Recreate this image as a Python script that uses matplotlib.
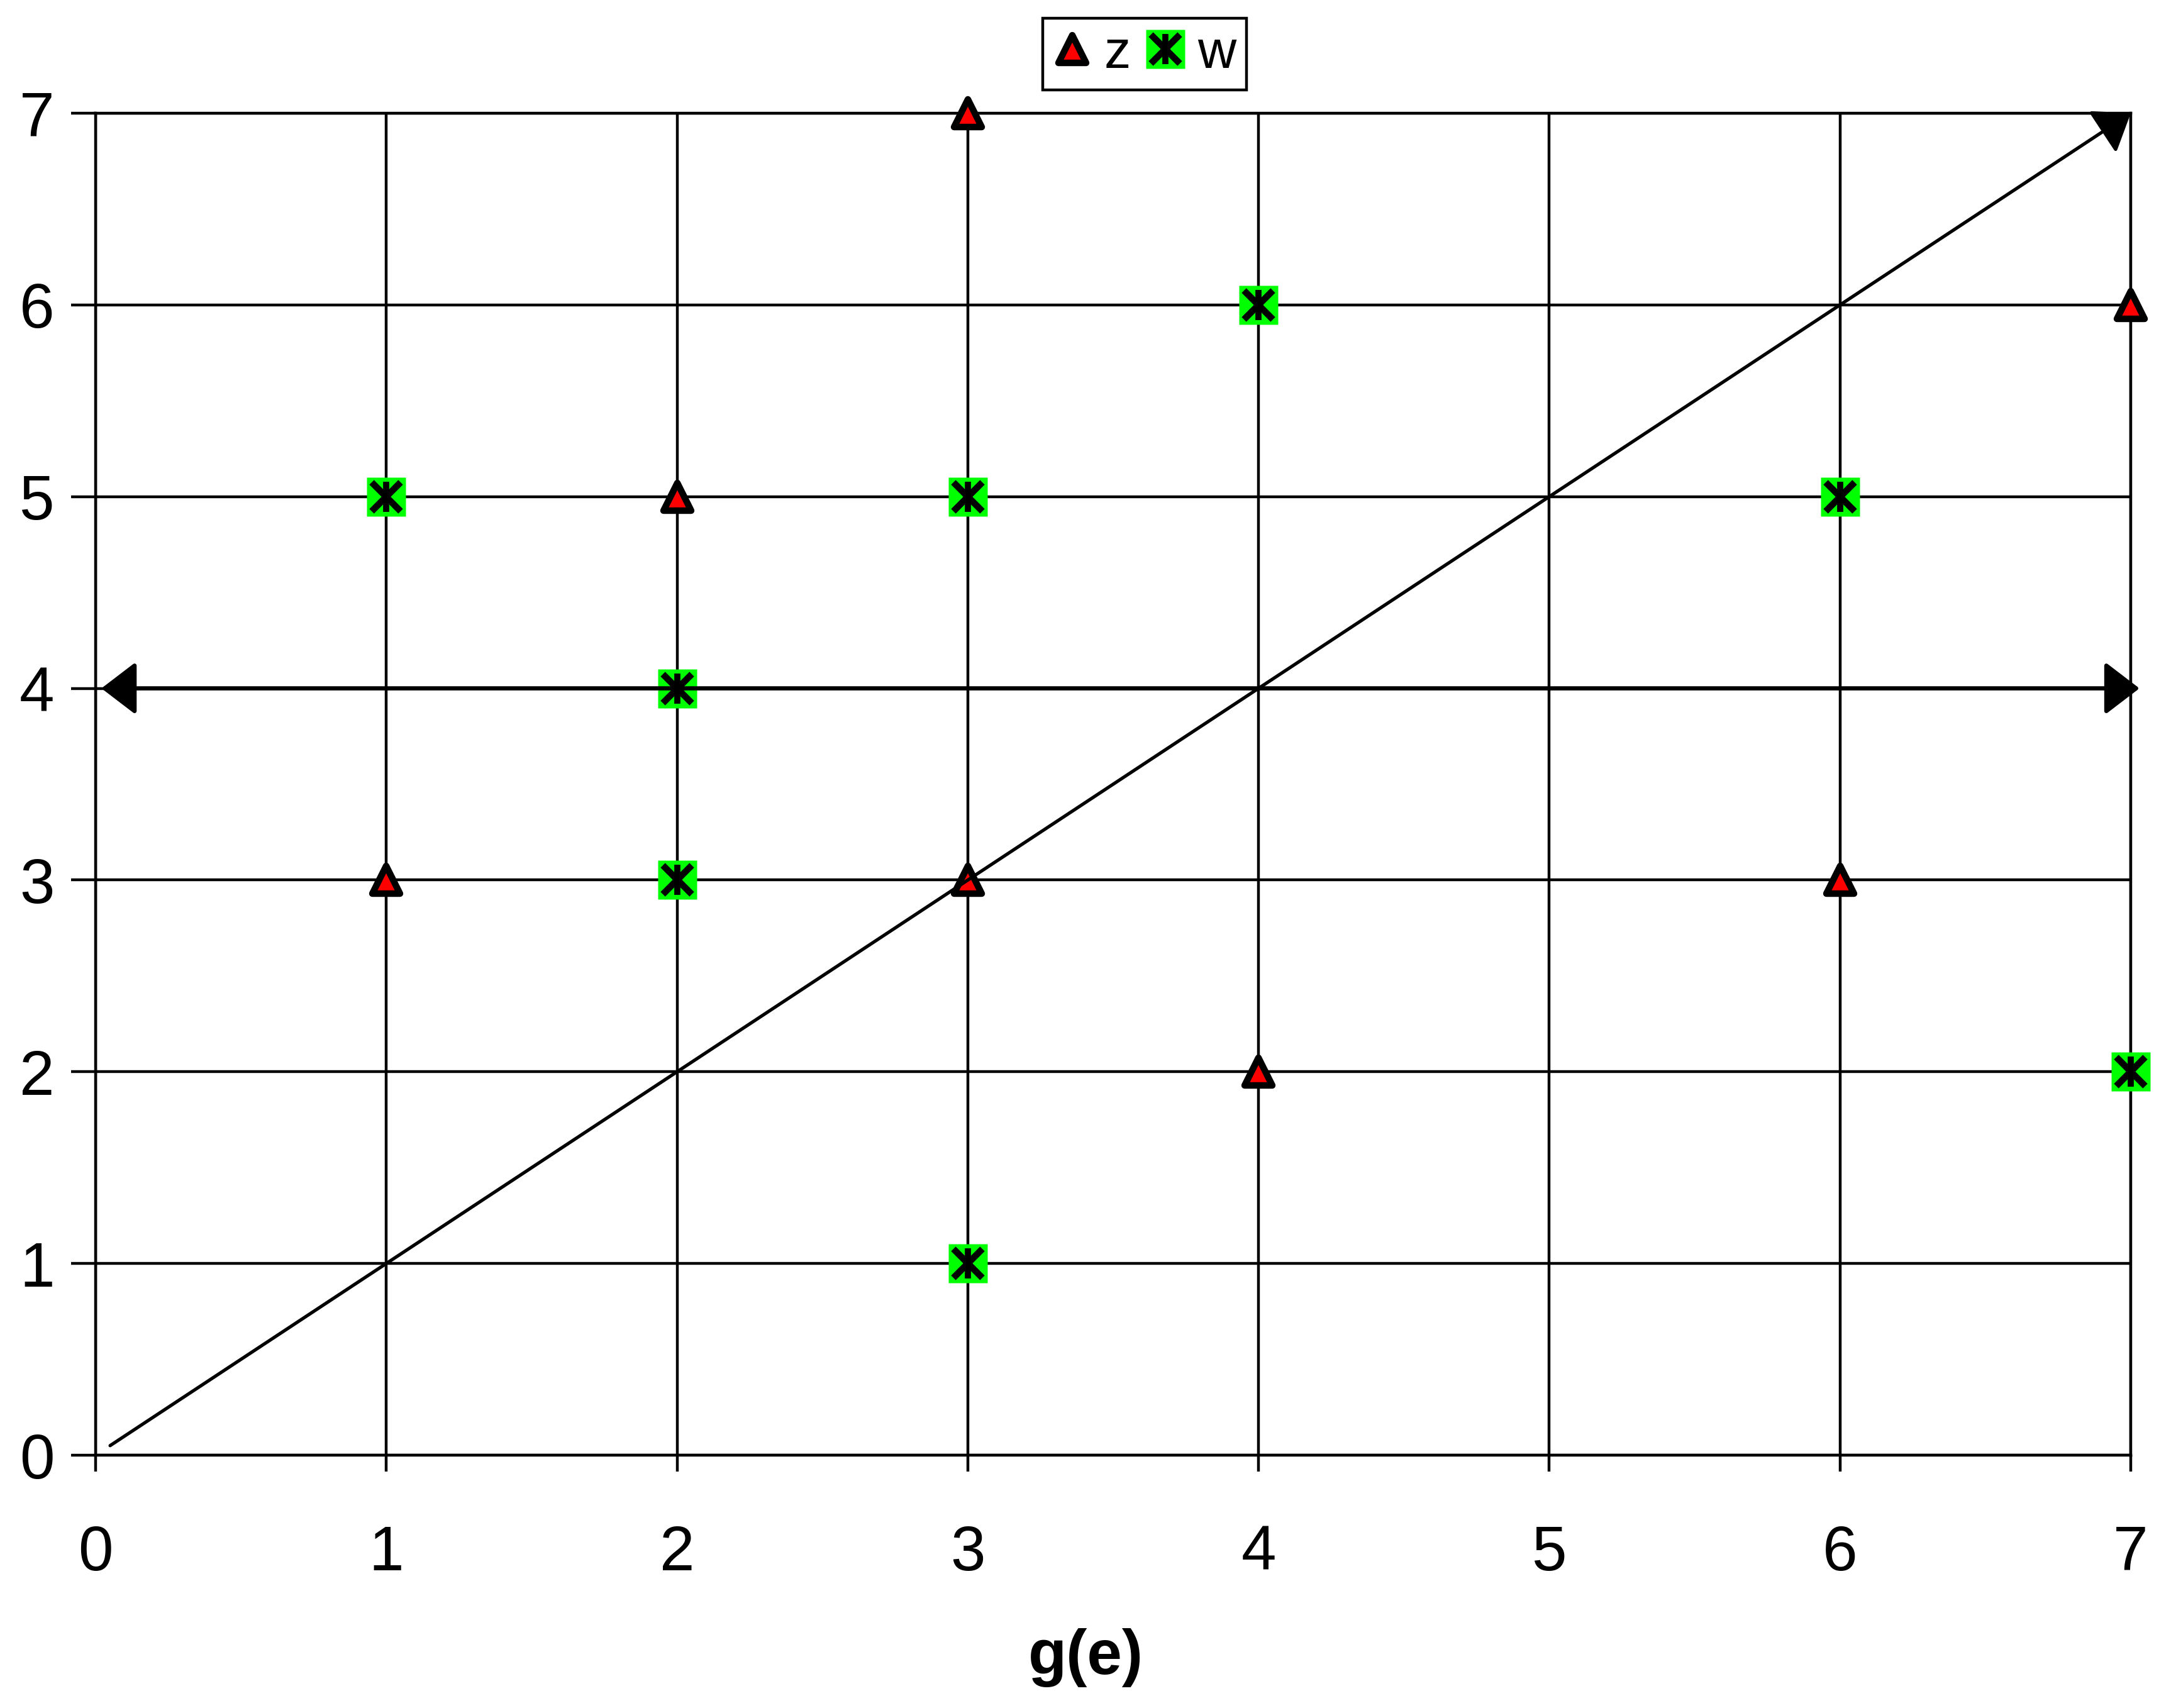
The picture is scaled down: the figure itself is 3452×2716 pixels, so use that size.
import matplotlib
matplotlib.use("Agg")
import matplotlib.pyplot as plt
from matplotlib.markers import MarkerStyle
from matplotlib.legend_handler import HandlerTuple

plt.rcParams['font.family'] = ['Liberation Sans', 'DejaVu Sans']

# data
z_x = [3, 7, 2, 1, 3, 6, 4]
z_y = [7, 6, 5, 3, 3, 3, 2]
w_x = [1, 3, 6, 4, 2, 2, 3, 7]
w_y = [5, 5, 5, 6, 4, 3, 1, 2]
ticks = [0, 1, 2, 3, 4, 5, 6, 7]
diag_start = (0.05, 0.05)
diag_end = (7, 7)
horiz_y = 4
horiz_x = (0, 7)
x_label = "g(e)"

fig = plt.figure(figsize=(34.52, 27.16), dpi=100)
ax = fig.add_axes([0.04403, 0.14801, 0.93743, 0.78571])
ax.set_xlim(0, 7)
ax.set_ylim(0, 7)
ax.set_xticks(ticks)
ax.set_yticks(ticks)
ax.grid(True, color='black', linewidth=3.2, zorder=0)
ax.set_axisbelow(True)
for s in ax.spines.values():
    s.set_linewidth(3.2)
    s.set_color('black')
ax.tick_params(axis='x', direction='out', length=19, width=3.2, pad=60, labelsize=72)
ax.tick_params(axis='y', direction='out', length=28, width=3.2, pad=19, labelsize=72)

tri = MarkerStyle('^', joinstyle='round')
zl, = ax.plot(z_x, z_y, linestyle='none', marker=tri, markersize=32,
              markerfacecolor='#ff0000', markeredgecolor='black',
              markeredgewidth=7.5, clip_on=False, zorder=3)
wsq, = ax.plot(w_x, w_y, linestyle='none', marker='s', markersize=44,
               markerfacecolor='#00ff00', markeredgecolor='none',
               clip_on=False, zorder=3)
wx, = ax.plot(w_x, w_y, linestyle='none', marker='x', markersize=33,
              markeredgecolor='black', markeredgewidth=7.5, clip_on=False, zorder=4)
wv, = ax.plot(w_x, w_y, linestyle='none', marker='|', markersize=34,
              markeredgecolor='black', markeredgewidth=7, clip_on=False, zorder=4)

# arrows (drawn over markers)
ax.annotate('', xy=diag_end, xytext=diag_start, xycoords='data',
            arrowprops=dict(arrowstyle='-|>,head_length=3.4,head_width=2.5',
                            mutation_scale=10, lw=3.8, color='black',
                            shrinkA=0, shrinkB=0), annotation_clip=False, zorder=5)
ax.annotate('', xy=(horiz_x[1] + 0.03, horiz_y), xytext=(horiz_x[0] + 0.02, horiz_y),
            xycoords='data',
            arrowprops=dict(arrowstyle='<|-|>,head_length=3.4,head_width=2.6',
                            mutation_scale=10, lw=4.8, color='black',
                            shrinkA=0, shrinkB=0), annotation_clip=False, zorder=5)

fig.text(0.5, 1 - 2662 / 2716, x_label, ha='center', va='baseline',
         fontsize=72, fontweight='bold')

leg = fig.legend([zl, (wsq, wx, wv)], ['z', 'w'], ncol=2, loc='center',
                 bbox_to_anchor=(1820 / 3452, 1 - 86 / 2716),
                 handler_map={tuple: HandlerTuple(ndivide=1, pad=0)},
                 fontsize=61, frameon=True, fancybox=False, framealpha=1,
                 edgecolor='black', handlelength=0.7, handletextpad=0.25,
                 columnspacing=0.3, borderpad=0.2, borderaxespad=0)
leg.get_frame().set_linewidth(3.2)

fig.savefig('out.png', dpi=100)
